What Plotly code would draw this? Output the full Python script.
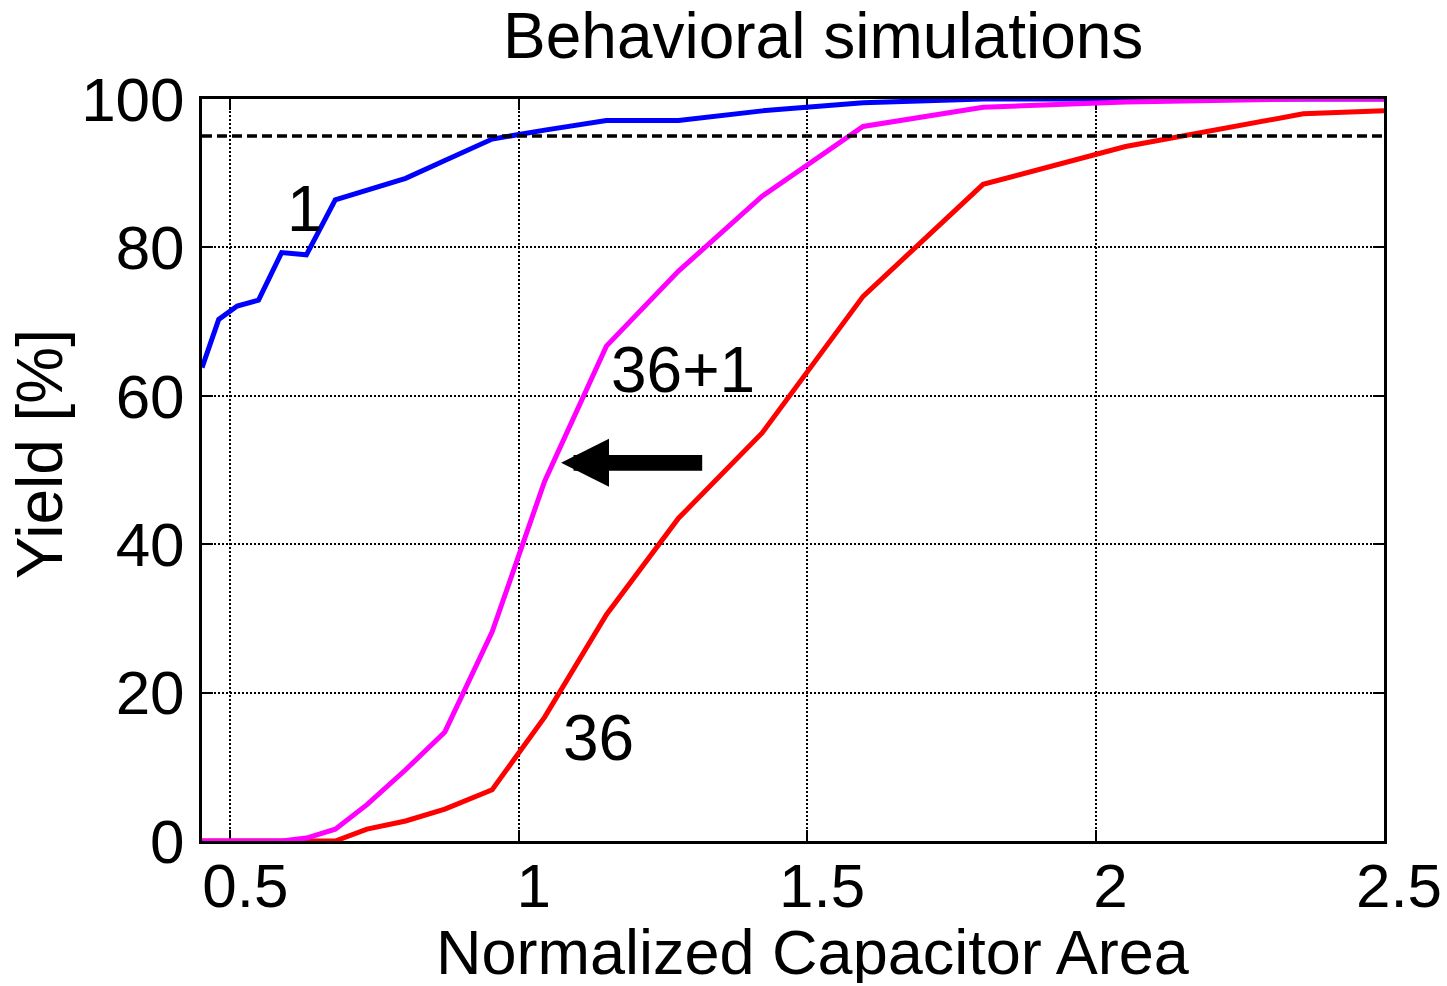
import plotly.graph_objects as go

# Normalized capacitor area (x) and simulated yield in percent for each configuration
area = [0.451, 0.480, 0.512, 0.549, 0.589, 0.632, 0.682, 0.737, 0.804, 0.872,
        0.954, 1.045, 1.152, 1.277, 1.422, 1.597, 1.805, 2.052, 2.360, 2.500]
yield_1 = [63.8, 70.3, 72.1, 72.9, 79.3, 79.0, 86.4, 87.7, 89.3, 91.7,
           94.6, 95.8, 97.1, 97.1, 98.4, 99.5, 100.0, 100.0, 100.0, 100.0]
yield_36 = [0.0, 0.0, 0.0, 0.0, 0.0, 0.0, 0.0, 1.6, 2.7, 4.3,
            6.9, 16.7, 30.5, 43.5, 55.0, 73.4, 88.5, 93.6, 98.0, 98.4]
yield_36p1 = [0.0, 0.0, 0.0, 0.0, 0.0, 0.4, 1.6, 4.9, 9.6, 14.7,
              28.2, 48.5, 66.7, 76.8, 86.9, 96.3, 98.9, 99.6, 100.0, 100.0]

TARGET_YIELD = 95
x_ticks = [0.5, 1, 1.5, 2, 2.5]
x_tick_text = ["0.5", "1", "1.5", "2", "2.5"]
y_ticks = [0, 20, 40, 60, 80, 100]

FONT = "Liberation Sans, Arial, sans-serif"
TICK_FS = 62
TEXT_FS = 64

fig = go.Figure()
fig.add_trace(go.Scatter(x=area, y=yield_1, mode="lines", name="1",
                         line=dict(color="#0000FF", width=5)))
fig.add_trace(go.Scatter(x=area, y=yield_36, mode="lines", name="36",
                         line=dict(color="#FF0000", width=5)))
fig.add_trace(go.Scatter(x=area, y=yield_36p1, mode="lines", name="36+1",
                         line=dict(color="#FF00FF", width=5)))

# 95 % yield target
fig.add_hline(y=TARGET_YIELD, line=dict(color="black", width=3.5, dash="10px,5px"))

axis_common = dict(
    showline=True, linecolor="black", linewidth=3, mirror="ticks",
    ticks="inside", ticklen=11, tickwidth=2, tickcolor="black",
    showgrid=True, gridcolor="black", gridwidth=2.2, griddash="2px,2px",
    zeroline=False, layer="below traces",
    tickfont=dict(family=FONT, size=TICK_FS, color="black"),
)

fig.update_xaxes(range=[0.451, 2.5], tickvals=x_ticks, ticktext=x_tick_text,
                 ticklabelstandoff=-11, ticklabelshift=15, **axis_common)
fig.update_yaxes(range=[0, 100], tickvals=y_ticks,
                 ticklabelstandoff=2, **axis_common)


def label(text, size=TEXT_FS, **kw):
    return dict(text=text, showarrow=False,
                font=dict(family=FONT, size=size, color="black"), **kw)


annotations = [
    label("Behavioral simulations", xref="paper", yref="paper",
          x=0.5258, y=1.085, xanchor="center", yanchor="middle"),
    label("Normalized Capacitor Area", size=63, xref="paper", yref="paper",
          x=0.5165, y=-0.1500, xanchor="center", yanchor="middle",
          height=62, valign="middle"),
    label("Yield [%]", xref="paper", yref="paper", textangle=-90,
          x=-0.1375, y=0.522, xanchor="center", yanchor="middle"),
    label("1", x=0.5955, y=85.2, xanchor="left", yanchor="middle"),
    label("36+1", x=1.157, y=63.45, xanchor="left", yanchor="middle"),
    label("36", x=1.0735, y=13.83, xanchor="left", yanchor="middle"),
    # arrow pointing from the 36 curve toward the 36+1 curve
    dict(text="", x=1.0735, y=50.97, ax=142.6, ay=0, showarrow=True,
         arrowhead=2, arrowsize=0.61, arrowwidth=15.7, arrowcolor="black",
         standoff=0),
]

fig.update_layout(
    width=1447, height=986,
    margin=dict(l=202, r=63, t=99, b=145, autoexpand=False),
    paper_bgcolor="white", plot_bgcolor="white",
    showlegend=False,
    annotations=annotations,
)

fig.write_html("out.html")
